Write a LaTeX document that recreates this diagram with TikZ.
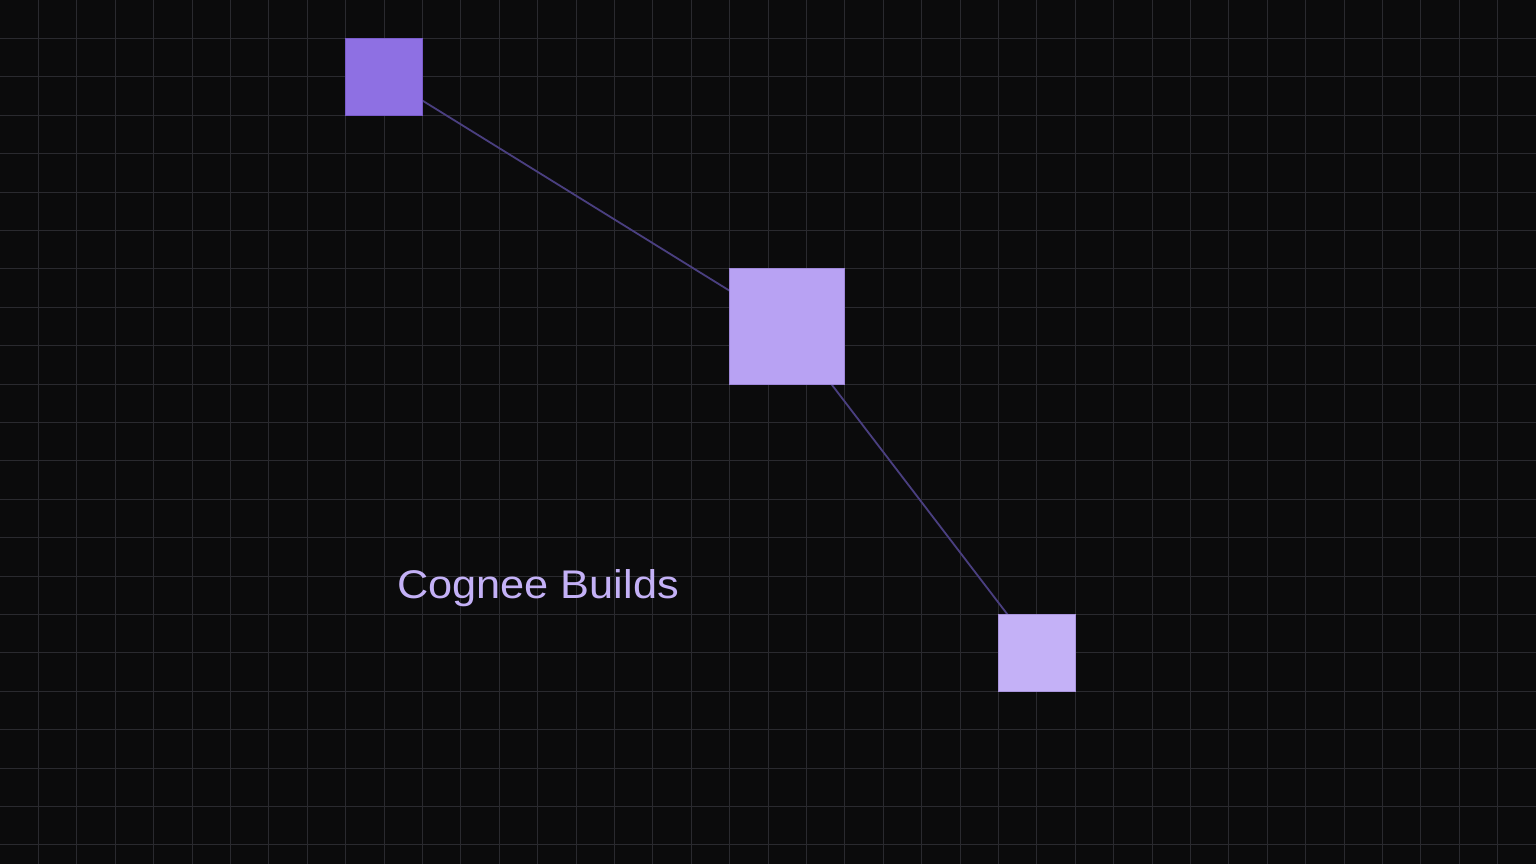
\documentclass[tikz,border=0pt]{standalone}
\usepackage{fontspec}
\setmainfont{Liberation Sans}
\newfontfamily\labelfont[FakeStretch=1.083]{Liberation Sans}
\definecolor{bg}{HTML}{0B0B0C}
\definecolor{gridc}{HTML}{2A2A2F}
\definecolor{linkc}{HTML}{4A3F80}
\definecolor{sqA}{HTML}{8E70E3}
\definecolor{sqAb}{HTML}{7A5CCB}
\definecolor{sqB}{HTML}{B8A2F3}
\definecolor{sqBb}{HTML}{9F88DA}
\definecolor{sqC}{HTML}{C4B1F7}
\definecolor{sqCb}{HTML}{AA96DD}
\definecolor{txtc}{HTML}{C4B1F7}
\pgfdeclarelayer{backlayer}
\pgfdeclarelayer{linklayer}
\pgfsetlayers{backlayer,linklayer,main}
\begin{document}
\begin{tikzpicture}[x=1pt,y=-1pt,
  sq/.style={rectangle,inner sep=0pt,line width=1pt},
  link/.style={draw=linkc,line width=1.8pt},
  label/.style={inner sep=0pt,text=txtc,font=\labelfont\fontsize{40}{44}\selectfont}]
\useasboundingbox (0,0) rectangle (1536,864);
\begin{pgfonlayer}{backlayer}
\fill[bg] (-4,-4) rectangle (1540,868);
\foreach \i in {1,...,39} {\draw[gridc,line width=1pt] (\i*38.4,-4) -- (\i*38.4,868);}
\foreach \j in {1,...,22} {\draw[gridc,line width=1pt] (-4,\j*38.4) -- (1540,\j*38.4);}
\end{pgfonlayer}
\node[sq,fill=sqA,draw=sqAb,minimum size=76.8pt] (a) at (384,76.8) {};
\node[sq,fill=sqB,draw=sqBb,minimum size=115.2pt] (b) at (787.2,326.4) {};
\node[sq,fill=sqC,draw=sqCb,minimum size=76.8pt] (c) at (1036.8,652.8) {};
\begin{pgfonlayer}{linklayer}
\draw[link] (a.center) -- (b.center);
\draw[link] (b.center) -- (c.center);
\end{pgfonlayer}
\node[label,anchor=base west] (t) at (397,598) {Cognee Builds};
\end{tikzpicture}
\end{document}
